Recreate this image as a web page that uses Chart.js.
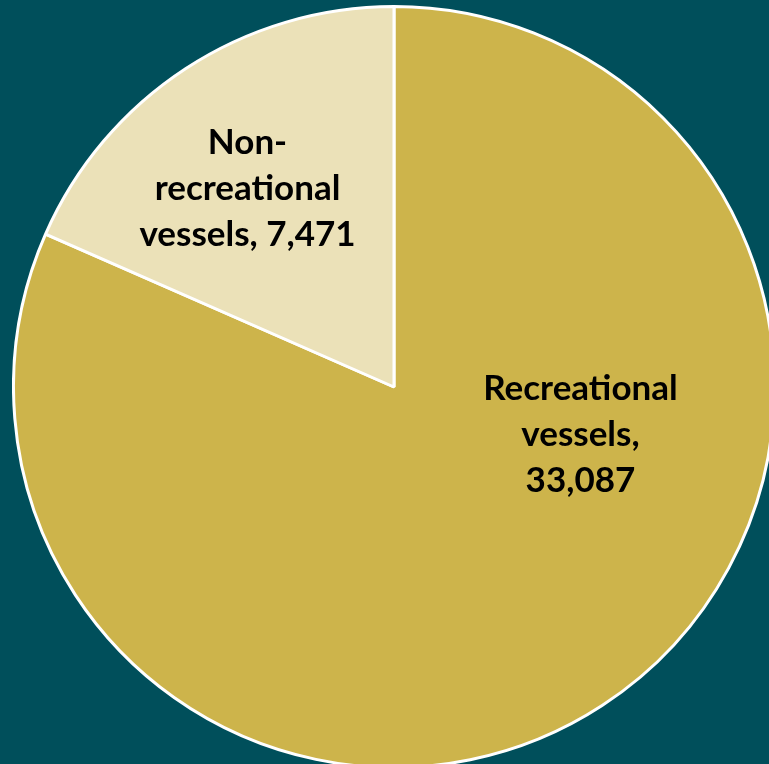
<!DOCTYPE html>
<html>
<head>
<meta charset="utf-8">
<script src="https://cdn.jsdelivr.net/npm/chart.js@4.4.0/dist/chart.umd.min.js"></script>
<style>
  html, body { margin: 0; padding: 0; }
  body { width: 769px; height: 764px; overflow: hidden; background: #004F5B; position: relative; }
  #wrap { position: absolute; left: 12px; top: 5px; width: 764px; height: 764px; }
</style>
</head>
<body>
<div id="wrap"><canvas id="pieChart"></canvas></div>
<script>
const categories = ['Recreational vessels', 'Non-recreational vessels'];
const vesselCounts = [33087, 7471];
const labelLines = [
  ['Recreational', 'vessels,', '33,087'],
  ['Non-', 'recreational', 'vessels, 7,471']
];
const sliceColors = ['#CDB44B', '#EBE1B8'];

// where each label sits, relative to the pie centre, in units of radius
const labelSpots = [
  { dx: 0.49, dy: 0.125 },
  { dx: -0.385, dy: -0.52 }
];

const sliceLabels = {
  id: 'sliceLabels',
  afterDatasetsDraw(chart) {
    const ctx = chart.ctx;
    const arcs = chart.getDatasetMeta(0).data;
    ctx.save();
    ctx.fillStyle = '#000';
    ctx.font = 'bold 35px Lato';
    ctx.textAlign = 'center';
    ctx.textBaseline = 'middle';
    arcs.forEach((arc, i) => {
      const r = arc.outerRadius;
      const cx = arc.x + labelSpots[i].dx * r;
      const cy = arc.y + labelSpots[i].dy * r;
      const lines = labelLines[i];
      const lh = 46;
      lines.forEach((t, j) => {
        ctx.fillText(t, cx, cy + (j - (lines.length - 1) / 2) * lh);
      });
    });
    ctx.restore();
  }
};

new Chart(document.getElementById('pieChart').getContext('2d'), {
  type: 'pie',
  data: {
    labels: categories,
    datasets: [{
      data: vesselCounts,
      backgroundColor: sliceColors,
      borderColor: '#FFFFFF',
      borderWidth: 3
    }]
  },
  options: {
    responsive: true,
    maintainAspectRatio: false,
    animation: false,
    layout: { padding: 0 },
    plugins: {
      legend: { display: false },
      tooltip: { enabled: false }
    }
  },
  plugins: [sliceLabels]
});
</script>
</body>
</html>
